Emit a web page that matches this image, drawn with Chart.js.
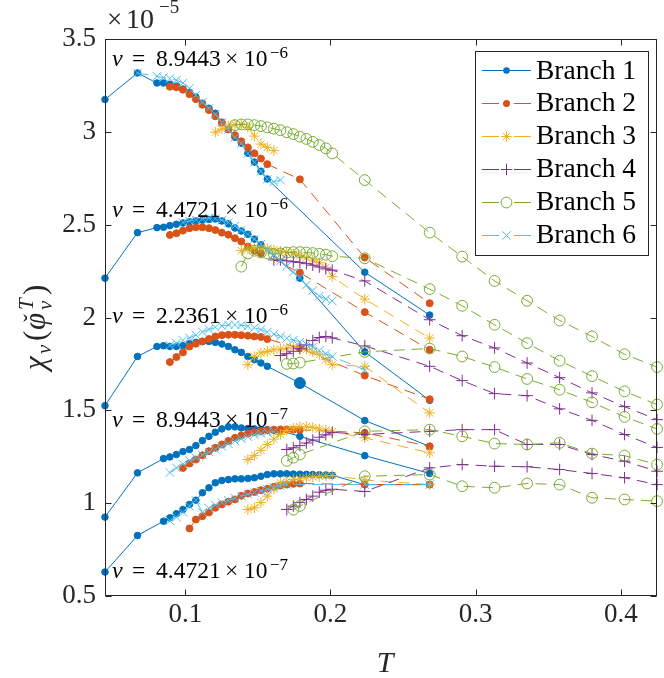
<!DOCTYPE html>
<html><head><meta charset="utf-8">
<script src="https://cdn.jsdelivr.net/npm/chart.js@4.4.0/dist/chart.umd.min.js"></script>
<style>html,body{margin:0;padding:0;background:#fff;}canvas{display:block;}</style>
</head><body>
<canvas id="c" width="664" height="678"></canvas>
<script>
// ---- axis ticks ----
const X_TICKS = [0.1, 0.2, 0.3, 0.4];
const Y_TICKS = [0.5, 1, 1.5, 2, 2.5, 3, 3.5];   // in units of 1e-5
const BRANCH_NAMES = ['Branch 1','Branch 2','Branch 3','Branch 4','Branch 5','Branch 6'];
const NU_MANTISSA = ['8.9443','4.4721','2.2361','8.9443','4.4721'];
const NU_EXPONENT = ['−6','−6','−6','−7','−7'];

// ---- data: nu = 8.9443e-6 ----
const T_N1_B1 = [0.0447,0.0671,0.0805,0.0850,0.0894,0.0939,0.0984,0.1029,0.1073,0.1118,0.1163,0.1207,0.1252,0.1297,0.1342,0.1386,0.1431,0.1476,0.1521,0.1565,0.2236,0.2683];
const V_N1_B1 = [3.174,3.317,3.263,3.263,3.256,3.246,3.230,3.213,3.187,3.154,3.127,3.100,3.052,3.014,2.971,2.939,2.885,2.837,2.788,2.746,2.244,2.013];
const T_N1_B2 = [0.0894,0.0939,0.0984,0.1029,0.1073,0.1118,0.1163,0.1207,0.1252,0.1297,0.1342,0.1386,0.1431,0.1476,0.1521,0.1565,0.1789,0.2236,0.2683];
const V_N1_B2 = [3.243,3.240,3.227,3.203,3.176,3.146,3.117,3.084,3.049,3.014,2.982,2.949,2.916,2.884,2.856,2.826,2.744,2.323,2.077];
const T_N1_B3 = [0.1207,0.1252,0.1297,0.1342,0.1386,0.1431,0.1476,0.1521,0.1565,0.1610];
const V_N1_B3 = [2.998,3.015,3.031,3.039,3.041,3.025,2.977,2.934,2.916,2.899];
const T_N1_B5 = [0.1342,0.1386,0.1431,0.1476,0.1521,0.1565,0.1610,0.1655,0.1699,0.1744,0.1789,0.1834,0.1878,0.1923,0.1968,0.2012,0.2236,0.2683,0.2907,0.3130,0.3354,0.3578,0.3801,0.4025,0.4249];
const V_N1_B5 = [3.036,3.040,3.040,3.036,3.031,3.024,3.017,3.009,2.998,2.988,2.974,2.962,2.946,2.929,2.911,2.884,2.740,2.457,2.328,2.197,2.090,1.984,1.898,1.802,1.733];
const T_N1_B6 = [0.0671,0.0805,0.0850,0.0894,0.0939,0.0984,0.1029,0.1073,0.1118,0.1163,0.1207,0.1252,0.1297,0.1342,0.1386,0.1431,0.1476,0.1521,0.1565,0.1610,0.1655];
const V_N1_B6 = [3.317,3.299,3.292,3.287,3.278,3.263,3.235,3.197,3.160,3.127,3.095,3.050,3.012,2.970,2.938,2.884,2.836,2.787,2.745,2.731,2.740];

// ---- data: nu = 4.4721e-6 ----
const T_N2_B1 = [0.0447,0.0671,0.0805,0.0850,0.0894,0.0939,0.0984,0.1029,0.1073,0.1118,0.1163,0.1207,0.1252,0.1297,0.1342,0.1386,0.1431,0.1476,0.1521,0.1789,0.2236,0.2683];
const V_N2_B1 = [2.212,2.457,2.484,2.486,2.495,2.502,2.509,2.515,2.520,2.524,2.528,2.531,2.520,2.504,2.482,2.466,2.448,2.422,2.391,2.212,1.815,1.554];
const T_N2_B2 = [0.0894,0.0939,0.0984,0.1029,0.1073,0.1118,0.1163,0.1207,0.1252,0.1297,0.1342,0.1386,0.1431,0.1476,0.1521,0.1789,0.2236,0.2683];
const V_N2_B2 = [2.445,2.454,2.468,2.481,2.486,2.486,2.481,2.471,2.457,2.446,2.427,2.409,2.382,2.360,2.346,2.242,2.029,1.826];
const T_N2_B3 = [0.1386,0.1431,0.1476,0.1521,0.1565,0.1610,0.1655,0.1699,0.1744,0.1789,0.1834,0.1878,0.1923,0.1968,0.2012,0.2236,0.2683];
const V_N2_B3 = [2.360,2.370,2.375,2.375,2.372,2.365,2.358,2.350,2.342,2.333,2.322,2.310,2.295,2.270,2.220,2.099,1.889];
const T_N2_B4 = [0.1610,0.1655,0.1699,0.1744,0.1789,0.1834,0.1878,0.1923,0.1968,0.2012,0.2236,0.2683,0.2907,0.3130,0.3354,0.3578,0.3801,0.4025,0.4249];
const V_N2_B4 = [2.310,2.310,2.305,2.300,2.297,2.290,2.282,2.272,2.262,2.255,2.197,1.988,1.902,1.836,1.755,1.676,1.594,1.520,1.450];
const T_N2_B5 = [0.1386,0.1431,0.1476,0.1521,0.1565,0.1610,0.1655,0.1699,0.1744,0.1789,0.1834,0.1878,0.1923,0.1968,0.2012,0.2236,0.2683,0.2907,0.3130,0.3354,0.3578,0.3801,0.4025,0.4249];
const V_N2_B5 = [2.274,2.345,2.360,2.350,2.345,2.342,2.345,2.350,2.352,2.352,2.350,2.347,2.343,2.338,2.330,2.319,2.153,2.063,1.961,1.862,1.767,1.684,1.602,1.531];
const T_N2_B6 = [0.0984,0.1029,0.1073,0.1118,0.1163,0.1207,0.1252,0.1297,0.1342,0.1386,0.1431,0.1476,0.1521,0.1565,0.1610,0.1655,0.1699,0.1744,0.1789,0.1834,0.1878,0.1923,0.1968,0.2012];
const V_N2_B6 = [2.512,2.520,2.527,2.532,2.535,2.533,2.525,2.512,2.493,2.470,2.448,2.422,2.395,2.365,2.335,2.305,2.275,2.245,2.215,2.175,2.145,2.115,2.100,2.089];

// ---- data: nu = 2.2361e-6 ----
const T_N3_B1 = [0.0447,0.0671,0.0805,0.0850,0.0894,0.0939,0.0984,0.1029,0.1073,0.1118,0.1163,0.1207,0.1252,0.1297,0.1342,0.1386,0.1431,0.1476,0.1521,0.1565,0.1789,0.2236,0.2683];
const V_N3_B1 = [1.525,1.790,1.844,1.848,1.844,1.844,1.848,1.859,1.866,1.871,1.871,1.866,1.857,1.844,1.826,1.812,1.790,1.773,1.755,1.737,1.647,1.445,1.306];
const T_N3_B2 = [0.0894,0.0939,0.0984,0.1029,0.1073,0.1118,0.1163,0.1207,0.1252,0.1297,0.1342,0.1386,0.1431,0.1476,0.1521,0.1565,0.1789,0.2236,0.2683];
const V_N3_B2 = [1.760,1.787,1.812,1.844,1.859,1.871,1.884,1.898,1.905,1.907,1.907,1.905,1.902,1.898,1.895,1.884,1.835,1.687,1.560];
const T_N3_B3 = [0.1431,0.1476,0.1521,0.1565,0.1610,0.1655,0.1699,0.1744,0.1789,0.1834,0.1878,0.1923,0.1968,0.2012,0.2236,0.2683];
const V_N3_B3 = [1.746,1.790,1.809,1.817,1.826,1.830,1.835,1.840,1.838,1.828,1.815,1.800,1.773,1.746,1.737,1.486];
const T_N3_B4 = [0.1655,0.1699,0.1744,0.1789,0.1834,0.1878,0.1923,0.1968,0.2012,0.2236,0.2683,0.2907,0.3130,0.3354,0.3578,0.3801,0.4025,0.4249];
const V_N3_B4 = [1.795,1.805,1.818,1.832,1.853,1.876,1.892,1.898,1.890,1.847,1.737,1.660,1.590,1.579,1.508,1.446,1.370,1.300];
const T_N3_B5 = [0.1699,0.1744,0.1789,0.2236,0.2683,0.2907,0.3130,0.3354,0.3578,0.3801,0.4025,0.4249];
const V_N3_B5 = [1.750,1.752,1.757,1.815,1.833,1.790,1.733,1.669,1.611,1.543,1.465,1.400];
const T_N3_B6 = [0.0894,0.0939,0.0984,0.1029,0.1073,0.1118,0.1163,0.1207,0.1252,0.1297,0.1342,0.1386,0.1431,0.1476,0.1521,0.1565,0.1610,0.1655,0.1699,0.1744,0.1789,0.1834,0.1878,0.1923,0.1968,0.2012,0.2236];
const V_N3_B6 = [1.850,1.862,1.877,1.890,1.906,1.922,1.936,1.948,1.955,1.960,1.961,1.959,1.953,1.945,1.935,1.922,1.910,1.898,1.888,1.878,1.868,1.855,1.842,1.822,1.805,1.790,1.718];

// ---- data: nu = 8.9443e-7 ----
const T_N4_B1 = [0.0447,0.0671,0.0850,0.0894,0.0939,0.0984,0.1029,0.1073,0.1118,0.1163,0.1207,0.1252,0.1297,0.1342,0.1386,0.1431,0.1476,0.1521,0.1565,0.1610,0.1655,0.1789,0.2236,0.2683];
const V_N4_B1 = [0.925,1.163,1.240,1.249,1.262,1.278,1.289,1.310,1.337,1.360,1.382,1.400,1.411,1.411,1.405,1.402,1.400,1.396,1.396,1.393,1.390,1.360,1.256,1.160];
const T_N4_B2 = [0.0984,0.1029,0.1073,0.1118,0.1163,0.1207,0.1252,0.1297,0.1342,0.1386,0.1431,0.1476,0.1521,0.1565,0.1610,0.1655,0.1699,0.1744,0.1789,0.2236,0.2683];
const V_N4_B2 = [1.190,1.213,1.235,1.258,1.280,1.298,1.316,1.335,1.352,1.364,1.375,1.382,1.387,1.392,1.396,1.397,1.397,1.396,1.395,1.379,1.306];
const T_N4_B3 = [0.1431,0.1476,0.1521,0.1565,0.1610,0.1655,0.1699,0.1744,0.1789,0.1834,0.1878,0.1923,0.1968,0.2012,0.2236,0.2683];
const V_N4_B3 = [1.235,1.256,1.285,1.316,1.345,1.370,1.392,1.405,1.412,1.412,1.408,1.400,1.393,1.385,1.352,1.271];
const T_N4_B4 = [0.1699,0.1744,0.1789,0.1834,0.1878,0.1923,0.1968,0.2012,0.2236,0.2683,0.2907,0.3130,0.3354,0.3578,0.3801,0.4025,0.4249];
const V_N4_B4 = [1.289,1.298,1.310,1.324,1.340,1.355,1.368,1.381,1.370,1.387,1.396,1.396,1.316,1.316,1.262,1.226,1.172];
const T_N4_B5 = [0.1699,0.1744,0.1789,0.2236,0.2683,0.2907,0.3130,0.3354,0.3578,0.3801,0.4025,0.4249];
const V_N4_B5 = [1.228,1.245,1.262,1.387,1.396,1.360,1.321,1.316,1.325,1.267,1.256,1.208];
const T_N4_B6 = [0.0894,0.0939,0.0984,0.1029,0.1073,0.1118,0.1163,0.1207,0.1252,0.1297,0.1342,0.1386,0.1431,0.1476,0.1521,0.1565,0.1610];
const V_N4_B6 = [1.165,1.190,1.210,1.230,1.245,1.260,1.275,1.290,1.305,1.320,1.335,1.347,1.358,1.368,1.376,1.382,1.386];

// ---- data: nu = 4.4721e-7 ----
const T_N5_B1 = [0.0447,0.0671,0.0850,0.0894,0.0939,0.0984,0.1029,0.1073,0.1118,0.1163,0.1207,0.1252,0.1297,0.1342,0.1386,0.1431,0.1476,0.1521,0.1565,0.1610,0.1655,0.1699,0.1744,0.1789,0.1834,0.1878,0.1923,0.1968,0.2012,0.2236,0.2683];
const V_N5_B1 = [0.629,0.826,0.903,0.921,0.943,0.966,0.993,1.016,1.056,1.083,1.110,1.122,1.127,1.131,1.131,1.133,1.137,1.145,1.154,1.158,1.158,1.158,1.157,1.156,1.155,1.154,1.153,1.152,1.150,1.100,1.100];
const T_N5_B2 = [0.1029,0.1073,0.1118,0.1163,0.1207,0.1252,0.1297,0.1342,0.1386,0.1431,0.1476,0.1521,0.1565,0.1610,0.1655,0.1699,0.1744,0.1789,0.2236,0.2683];
const V_N5_B2 = [0.864,0.912,0.930,0.950,0.975,0.993,1.008,1.020,1.040,1.052,1.060,1.070,1.077,1.088,1.095,1.100,1.104,1.106,1.100,1.100];
const T_N5_B3 = [0.1431,0.1476,0.1521,0.1565,0.1610,0.1655,0.1699,0.1744,0.1789,0.1834,0.1878,0.1923,0.1968,0.2012,0.2236,0.2683];
const V_N5_B3 = [0.966,0.975,1.003,1.038,1.075,1.110,1.118,1.127,1.131,1.137,1.141,1.145,1.147,1.149,1.125,1.100];
const T_N5_B4 = [0.1699,0.1744,0.1789,0.1834,0.1878,0.1923,0.1968,0.2012,0.2236,0.2683,0.2907,0.3130,0.3354,0.3578,0.3801,0.4025,0.4249];
const V_N5_B4 = [0.966,0.984,1.003,1.020,1.038,1.059,1.070,1.075,1.063,1.190,1.208,1.199,1.196,1.181,1.160,1.137,1.100];
const T_N5_B5 = [0.1744,0.1789,0.2236,0.2683,0.2907,0.3130,0.3354,0.3578,0.3801,0.4025,0.4249];
const V_N5_B5 = [0.965,0.985,1.145,1.154,1.091,1.083,1.106,1.100,1.029,1.020,1.011];
const T_N5_B6 = [0.0894,0.0939,0.0984,0.1029,0.1073,0.1118,0.1163,0.1207,0.1252,0.1297,0.1342,0.1386,0.1431,0.1476,0.1521,0.1565,0.1610,0.1655,0.1699,0.2236,0.2683];
const V_N5_B6 = [0.905,0.925,0.950,0.984,1.016,0.950,0.972,0.990,1.003,1.015,1.027,1.038,1.048,1.057,1.066,1.075,1.085,1.093,1.100,1.100,1.100];

const CURVES = [
  [1,1,T_N1_B1,V_N1_B1],[1,2,T_N1_B2,V_N1_B2],[1,3,T_N1_B3,V_N1_B3],[1,5,T_N1_B5,V_N1_B5],[1,6,T_N1_B6,V_N1_B6],
  [2,1,T_N2_B1,V_N2_B1],[2,2,T_N2_B2,V_N2_B2],[2,3,T_N2_B3,V_N2_B3],[2,4,T_N2_B4,V_N2_B4],[2,5,T_N2_B5,V_N2_B5],[2,6,T_N2_B6,V_N2_B6],
  [3,1,T_N3_B1,V_N3_B1],[3,2,T_N3_B2,V_N3_B2],[3,3,T_N3_B3,V_N3_B3],[3,4,T_N3_B4,V_N3_B4],[3,5,T_N3_B5,V_N3_B5],[3,6,T_N3_B6,V_N3_B6],
  [4,1,T_N4_B1,V_N4_B1],[4,2,T_N4_B2,V_N4_B2],[4,3,T_N4_B3,V_N4_B3],[4,4,T_N4_B4,V_N4_B4],[4,5,T_N4_B5,V_N4_B5],[4,6,T_N4_B6,V_N4_B6],
  [5,1,T_N5_B1,V_N5_B1],[5,2,T_N5_B2,V_N5_B2],[5,3,T_N5_B3,V_N5_B3],[5,4,T_N5_B4,V_N5_B4],[5,5,T_N5_B5,V_N5_B5],[5,6,T_N5_B6,V_N5_B6]
];

// ---- styles ----
const DASH = [11, 7];
const STYLE = {
  1:{color:'#0072BD', dash:[],   ps:'circle',   r:3.3, fill:true},
  2:{color:'#D95319', dash:DASH, ps:'circle',   r:3.5, fill:true},
  3:{color:'#EDB120', dash:DASH, ps:'star',     r:5.2, fill:false},
  4:{color:'#7E2F8E', dash:DASH, ps:'cross',    r:5.8, fill:false},
  5:{color:'#77AC30', dash:DASH, ps:'circle',   r:5.4, fill:false},
  6:{color:'#4DBEEE', dash:DASH, ps:'crossRot', r:6.0, fill:false}
};
const AX = '#262626';
const SERIF = '"Liberation Serif", "Times New Roman", serif';

const datasets = CURVES.map(([g,b,T,V]) => {
  const s = STYLE[b];
  const big = (g===3 && b===1) ? T.indexOf(0.1789) : -1;
  return {
    label: 'Branch ' + b,
    data: T.map((t,i)=>({x:t, y:V[i]})),
    showLine: true, tension: 0, borderColor: s.color, borderWidth: 1, borderDash: s.dash,
    pointStyle: s.ps,
    pointRadius: big >= 0 ? (c => c.dataIndex === big ? 5.5 : s.r) : s.r,
    pointHoverRadius: s.r,
    pointBorderColor: s.color, pointBorderWidth: 1,
    pointBackgroundColor: s.fill ? s.color : 'rgba(0,0,0,0)',
    order: 10 - b, clip: false
  };
});

function marker(ctx, s, x, y){
  ctx.save(); ctx.setLineDash([]); ctx.strokeStyle = s.color; ctx.fillStyle = s.color; ctx.lineWidth = 1;
  const r = s.r;
  ctx.beginPath();
  if (s.ps === 'circle'){ ctx.arc(x, y, r, 0, 2*Math.PI); if (s.fill) ctx.fill(); else ctx.stroke(); }
  else {
    if (s.ps === 'cross' || s.ps === 'star'){ ctx.moveTo(x-r,y); ctx.lineTo(x+r,y); ctx.moveTo(x,y-r); ctx.lineTo(x,y+r); }
    if (s.ps === 'crossRot' || s.ps === 'star'){ const d = r*Math.SQRT1_2; ctx.moveTo(x-d,y-d); ctx.lineTo(x+d,y+d); ctx.moveTo(x-d,y+d); ctx.lineTo(x+d,y-d); }
    ctx.stroke();
  }
  ctx.restore();
}

const decor = {
  id: 'decor',
  afterDatasetsDraw(chart){
    const ctx = chart.ctx, a = chart.chartArea, xs = chart.scales.x, ys = chart.scales.y;
    ctx.save();
    // box + inward ticks
    ctx.strokeStyle = AX; ctx.lineWidth = 1; ctx.setLineDash([]);
    const L = Math.round(a.left)+0.5, R = Math.round(a.right)-0.5, Tp = Math.round(a.top)+0.5, B = Math.round(a.bottom)-0.5;
    ctx.strokeRect(L, Tp, R-L, B-Tp);
    ctx.beginPath();
    Y_TICKS.forEach(v => { const p = Math.round(ys.getPixelForValue(v))+0.5; ctx.moveTo(L,p); ctx.lineTo(L+6,p); ctx.moveTo(R,p); ctx.lineTo(R-6,p); });
    X_TICKS.forEach(v => { const p = Math.round(xs.getPixelForValue(v))+0.5; ctx.moveTo(p,B); ctx.lineTo(p,B-6); ctx.moveTo(p,Tp); ctx.lineTo(p,Tp+6); });
    ctx.stroke();

    // exponent label
    ctx.fillStyle = AX; ctx.textBaseline = 'alphabetic'; ctx.textAlign = 'left';
    ctx.font = '27px ' + SERIF; ctx.fillText('×', 107, 28);
    ctx.font = '28px ' + SERIF; ctx.fillText('10', 126, 28);
    ctx.font = '19px ' + SERIF; ctx.fillText('−5', 159, 13);

    // nu annotations
    const baselines = [66, 217, 323, 427, 578];
    ctx.fillStyle = '#000';
    NU_MANTISSA.forEach((m, i) => {
      const x0 = 112, yb = baselines[i];
      ctx.font = 'italic 24px ' + SERIF; ctx.fillText('ν', x0, yb);
      ctx.font = '23.5px ' + SERIF;
      ctx.fillText('=', x0+20, yb);
      ctx.fillText(m, x0+44, yb);
      ctx.fillText('×', x0+113, yb);
      ctx.fillText('10', x0+132, yb);
      ctx.font = '17px ' + SERIF; ctx.fillText(NU_EXPONENT[i], x0+158, yb-8);
    });

    // x label
    ctx.fillStyle = AX;
    ctx.font = 'italic 30px ' + SERIF; ctx.textAlign = 'center'; ctx.fillText('T', 385, 672);
    ctx.textAlign = 'left';

    // y label (rotated)
    ctx.save();
    ctx.translate(45, 370); ctx.rotate(-Math.PI/2);
    ctx.font = 'italic 31px ' + SERIF; ctx.fillText('χ', 0, 0);
    ctx.font = 'italic 21px ' + SERIF; ctx.fillText('ν', 16, 6);
    ctx.font = '31px ' + SERIF; ctx.fillText('(', 29, 0);
    ctx.font = 'italic 31px ' + SERIF; ctx.fillText('φ', 40, 0);
    ctx.font = '24px ' + SERIF; ctx.fillText('ˇ', 48, -5);
    ctx.font = 'italic 21px ' + SERIF; ctx.fillText('T', 60, -12); ctx.fillText('ν', 60, 7);
    ctx.font = '31px ' + SERIF; ctx.fillText(')', 75, 0);
    ctx.restore();

    // legend
    const bx = 475.5, by = 51.5, bw = 173, bh = 204;
    ctx.fillStyle = '#fff'; ctx.fillRect(bx, by, bw, bh);
    ctx.strokeStyle = AX; ctx.lineWidth = 1; ctx.strokeRect(bx, by, bw, bh);
    BRANCH_NAMES.forEach((name, i) => {
      const s = STYLE[i+1], yc = 70 + i*32.9, yl = Math.round(yc)+0.5;
      ctx.save(); ctx.strokeStyle = s.color; ctx.lineWidth = 1; ctx.setLineDash([]);
      ctx.beginPath();
      if (s.dash.length){ ctx.moveTo(482, yl); ctx.lineTo(499, yl); ctx.moveTo(514, yl); ctx.lineTo(531, yl); }
      else { ctx.moveTo(482, yl); ctx.lineTo(531, yl); }
      ctx.stroke(); ctx.restore();
      marker(ctx, s, 506.5, yl);
      ctx.fillStyle = '#000'; ctx.font = '27.5px ' + SERIF; ctx.fillText(name, 536, yc + 8.5);
    });
    ctx.restore();
  }
};

new Chart(document.getElementById('c'), {
  type: 'scatter',
  data: { datasets },
  options: {
    responsive: false, animation: false, events: [],
    layout: { padding: { left: 0, right: 1, top: 39, bottom: 0 } },
    plugins: { legend: { display: false }, tooltip: { enabled: false } },
    scales: {
      x: {
        type: 'linear', min: 0.04472, max: 0.42485,
        afterFit: s => { s.height = 82; },
        afterBuildTicks: s => { s.ticks = X_TICKS.map(v => ({value: v})); },
        ticks: { font: { family: SERIF, size: 27 }, color: AX, padding: 3, maxRotation: 0, autoSkip: false,
                 callback: v => String(+v.toFixed(2)) },
        grid: { display: false, drawTicks: false }, border: { display: false }
      },
      y: {
        type: 'linear', min: 0.5, max: 3.5,
        afterFit: s => { s.width = 105; },
        afterBuildTicks: s => { s.ticks = Y_TICKS.map(v => ({value: v})); },
        ticks: { font: { family: SERIF, size: 27 }, color: AX, padding: 9, autoSkip: false,
                 callback: v => String(+v.toFixed(2)) },
        grid: { display: false, drawTicks: false }, border: { display: false }
      }
    }
  },
  plugins: [decor]
});
</script>
</body></html>
